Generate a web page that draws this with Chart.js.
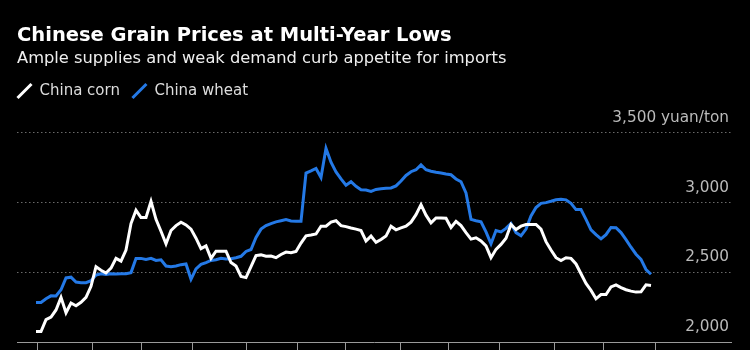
<!DOCTYPE html>
<html>
<head>
<meta charset="utf-8">
<script src="https://cdn.jsdelivr.net/npm/chart.js@4"></script>
<style>
  html, body { margin: 0; padding: 0; background: #000; }
  #wrap { width: 750px; height: 350px; }
</style>
</head>
<body>
<div id="wrap"><canvas id="grainChart"></canvas></div>
<script>
// price samples, roughly one every few trading days (yuan/ton)
const cornPrices = [
  2075, 2075, 2160, 2178, 2230, 2320, 2210, 2280, 2260, 2285,
  2320, 2400, 2540, 2515, 2495, 2530, 2600, 2580, 2660, 2850,
  2945, 2893, 2893, 3010, 2880, 2795, 2705, 2800, 2835, 2860,
  2840, 2810, 2745, 2670, 2690, 2600, 2652, 2652, 2652, 2570,
  2545, 2470, 2462, 2540, 2620, 2625, 2615, 2617, 2605, 2628,
  2645, 2640, 2650, 2710, 2762, 2768, 2775, 2831, 2831, 2860,
  2870, 2835, 2828, 2818, 2810, 2800, 2725, 2760, 2715, 2736,
  2760, 2830, 2805, 2819, 2831, 2860, 2914, 2986, 2910, 2855,
  2890, 2890, 2888, 2822, 2866, 2835, 2785, 2738, 2748, 2725,
  2690, 2605, 2665, 2700, 2745, 2843, 2807, 2831, 2843, 2843,
  2843, 2810, 2720, 2660, 2605, 2585, 2605, 2600, 2560, 2490,
  2420, 2370, 2310, 2340, 2340, 2395, 2410, 2390, 2375, 2365,
  2358, 2360, 2410, 2405
];
const wheatPrices = [
  2283, 2283, 2310, 2331, 2330, 2375, 2460, 2465, 2430, 2426,
  2426, 2440, 2480, 2490, 2485, 2490, 2488, 2490, 2490, 2498,
  2600, 2600, 2593, 2600, 2585, 2590, 2545, 2540, 2545, 2555,
  2560, 2450, 2525, 2557, 2570, 2585, 2590, 2600, 2595, 2598,
  2605, 2615, 2650, 2664, 2750, 2810, 2835, 2850, 2862, 2870,
  2878, 2868, 2866, 2866, 3212, 3228, 3245, 3180, 3390, 3290,
  3220, 3170, 3125, 3150, 3117, 3093, 3090, 3081, 3095, 3100,
  3103, 3105, 3120, 3155, 3195, 3222, 3236, 3271, 3236, 3225,
  3218, 3212, 3205, 3200, 3170, 3150, 3070, 2880, 2870, 2862,
  2790, 2705, 2800, 2790, 2815, 2850, 2785, 2762, 2810, 2905,
  2965, 2995, 3000, 3010, 3021, 3025, 3020, 2995, 2950, 2950,
  2880, 2805, 2770, 2740, 2770, 2822, 2820, 2785, 2735, 2680,
  2630, 2593, 2520, 2486
];
const days = cornPrices.map((_, i) => i);
// quarter marks on the time axis, in sample units
const tickDays = [0.2, 11.4, 21, 31.3, 42.1, 52.4, 62, 72.9, 82.5, 92.8, 103.8, 113.4, 123.8];
const yTicks = [2000, 2500, 3000, 3500];

const FONT = 'DejaVu Sans';

// start the legend flush with the title instead of after its padding
const legendShift = {
  id: 'legendShift',
  afterLayout(chart) {
    chart.legend.left -= chart.legend.options.labels.padding;
  }
};

new Chart(document.getElementById('grainChart'), {
  type: 'line',
  data: {
    datasets: [
      {
        label: 'China corn',
        data: days.map(i => ({ x: i, y: cornPrices[i] })),
        borderColor: '#ffffff',
        backgroundColor: '#ffffff',
        borderWidth: 3,
        pointRadius: 0,
        pointRotation: -45,
        pointStyle: 'line',
        tension: 0
      },
      {
        label: 'China wheat',
        data: days.map(i => ({ x: i, y: wheatPrices[i] })),
        borderColor: '#2479e6',
        backgroundColor: '#2479e6',
        borderWidth: 3,
        pointRadius: 0,
        pointRotation: -45,
        pointStyle: 'line',
        tension: 0
      }
    ]
  },
  options: {
    responsive: true,
    maintainAspectRatio: false,
    animation: false,
    layout: { padding: { left: 17, right: 19, top: 0, bottom: 0 } },
    plugins: {
      title: {
        display: true,
        align: 'start',
        text: 'Chinese Grain Prices at Multi-Year Lows',
        color: '#ffffff',
        font: { family: FONT, size: 19.5, weight: 'bold', lineHeight: 1.2 },
        padding: { top: 24.3, bottom: 0 }
      },
      subtitle: {
        display: true,
        align: 'start',
        text: 'Ample supplies and weak demand curb appetite for imports',
        color: '#eeeeee',
        font: { family: FONT, size: 16.3, lineHeight: 1.2 },
        padding: { top: 1.5, bottom: 2.7 }
      },
      legend: {
        display: true,
        align: 'start',
        labels: {
          usePointStyle: true,
          boxHeight: 14,
          color: '#dddddd',
          font: { family: FONT, size: 15 },
          padding: 12
        }
      },
      tooltip: { enabled: false }
    },
    scales: {
      x: {
        type: 'linear',
        min: -3.8,
        max: 139,
        afterBuildTicks: s => { s.ticks = tickDays.map(v => ({ value: v })); },
        grid: { drawOnChartArea: false, drawTicks: true, tickLength: 8, color: '#9a9a9a' },
        border: { display: true, color: '#9a9a9a', width: 1 },
        ticks: { display: false }
      },
      // empty band between the legend and the plot, where the top value label sits
      gap: {
        type: 'linear',
        position: 'top',
        grid: { drawOnChartArea: false, drawTicks: true, tickLength: 24.5, color: 'rgba(0,0,0,0)' },
        border: { display: false },
        ticks: { display: false }
      },
      y: {
        position: 'right',
        min: 2000,
        max: 3500,
        afterBuildTicks: s => { s.ticks = yTicks.map(v => ({ value: v })); },
        afterFit: s => {
          s.width = 0;
          s.paddingTop = 0;
          s.paddingBottom = 0;
        },
        border: { display: false, dash: [1.5, 2.5] },
        grid: {
          drawTicks: false,
          lineWidth: 1,
          color: c => (c.tick && c.tick.value === 2000 ? 'rgba(0,0,0,0)' : '#6a6a6a')
        },
        ticks: {
          mirror: true,
          padding: -2,
          labelOffset: -15,
          color: '#bbbbbb',
          font: { family: FONT, size: 15.3 },
          callback: v => (v === 3500 ? '3,500 yuan/ton' : v.toLocaleString('en-US'))
        }
      }
    }
  },
  plugins: [legendShift]
});
</script>
</body>
</html>
